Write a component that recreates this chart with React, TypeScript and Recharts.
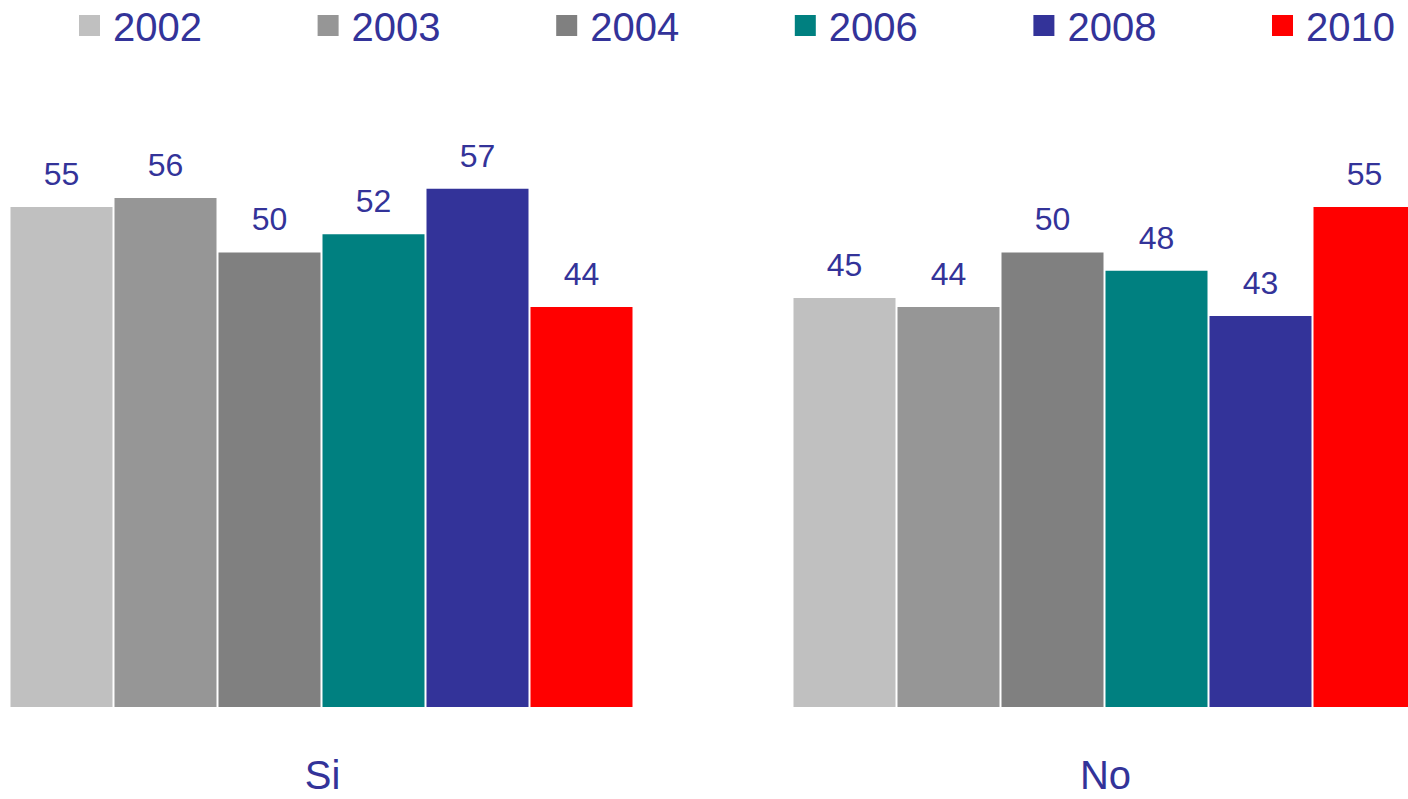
import { BarChart, Bar, XAxis, YAxis, LabelList } from 'recharts';

const categories = ['Si', 'No'];
const years = ['2002', '2003', '2004', '2006', '2008', '2010'];
const yearColors = ['#C0C0C0', '#969696', '#808080', '#008080', '#333399', '#FF0000'];
const values2002 = [55, 45];
const values2003 = [56, 44];
const values2004 = [50, 50];
const values2006 = [52, 48];
const values2008 = [57, 43];
const values2010 = [44, 55];

const seriesValues = [values2002, values2003, values2004, values2006, values2008, values2010];

const data = categories.map((name, i) => {
  const row: Record<string, string | number> = { name };
  years.forEach((y, j) => {
    row[y] = seriesValues[j][i];
  });
  return row;
});

const TEXT_COLOR = '#333399';
const FONT = '"Liberation Sans", Arial, sans-serif';

function CategoryTick(props: any) {
  const { x, y, payload } = props;
  return (
    <text x={x} y={y} dy={74} textAnchor="middle" fill={TEXT_COLOR} fontSize={40} fontFamily={FONT}>
      {payload.value}
    </text>
  );
}

export default function App() {
  return (
    <div style={{ position: 'absolute', left: 0, top: 0, width: 1408, height: 799, overflow: 'hidden', background: '#fff' }}>
      {/* Legend */}
      <svg width={1408} height={60} style={{ position: 'absolute', left: 0, top: 0 }}>
        {years.map((y, i) => {
          const left = 79 + i * 238.6;
          return (
            <g key={y}>
              <rect x={left} y={15} width={21} height={21} fill={yearColors[i]} />
              <text x={left + 34} y={41} fill={TEXT_COLOR} fontSize={40} fontFamily={FONT}>
                {y}
              </text>
            </g>
          );
        })}
      </svg>

      <div style={{ position: 'absolute', left: -69.5, top: 0 }}>
        <BarChart
          width={1566}
          height={799}
          data={data}
          margin={{ top: 7, right: 0, bottom: 0, left: 0 }}
          barCategoryGap={79.5}
          barGap={2}
        >
          <XAxis
            dataKey="name"
            axisLine={false}
            tickLine={false}
            tick={<CategoryTick />}
            height={92}
          />
          <YAxis hide domain={[0, 77]} />
          {years.map((y, i) => (
            <Bar key={y} dataKey={y} fill={yearColors[i]} isAnimationActive={false}>
              <LabelList
                dataKey={y}
                position="top"
                offset={22}
                fill={TEXT_COLOR}
                fontSize={32}
                fontFamily={FONT}
              />
            </Bar>
          ))}
        </BarChart>
      </div>
    </div>
  );
}
